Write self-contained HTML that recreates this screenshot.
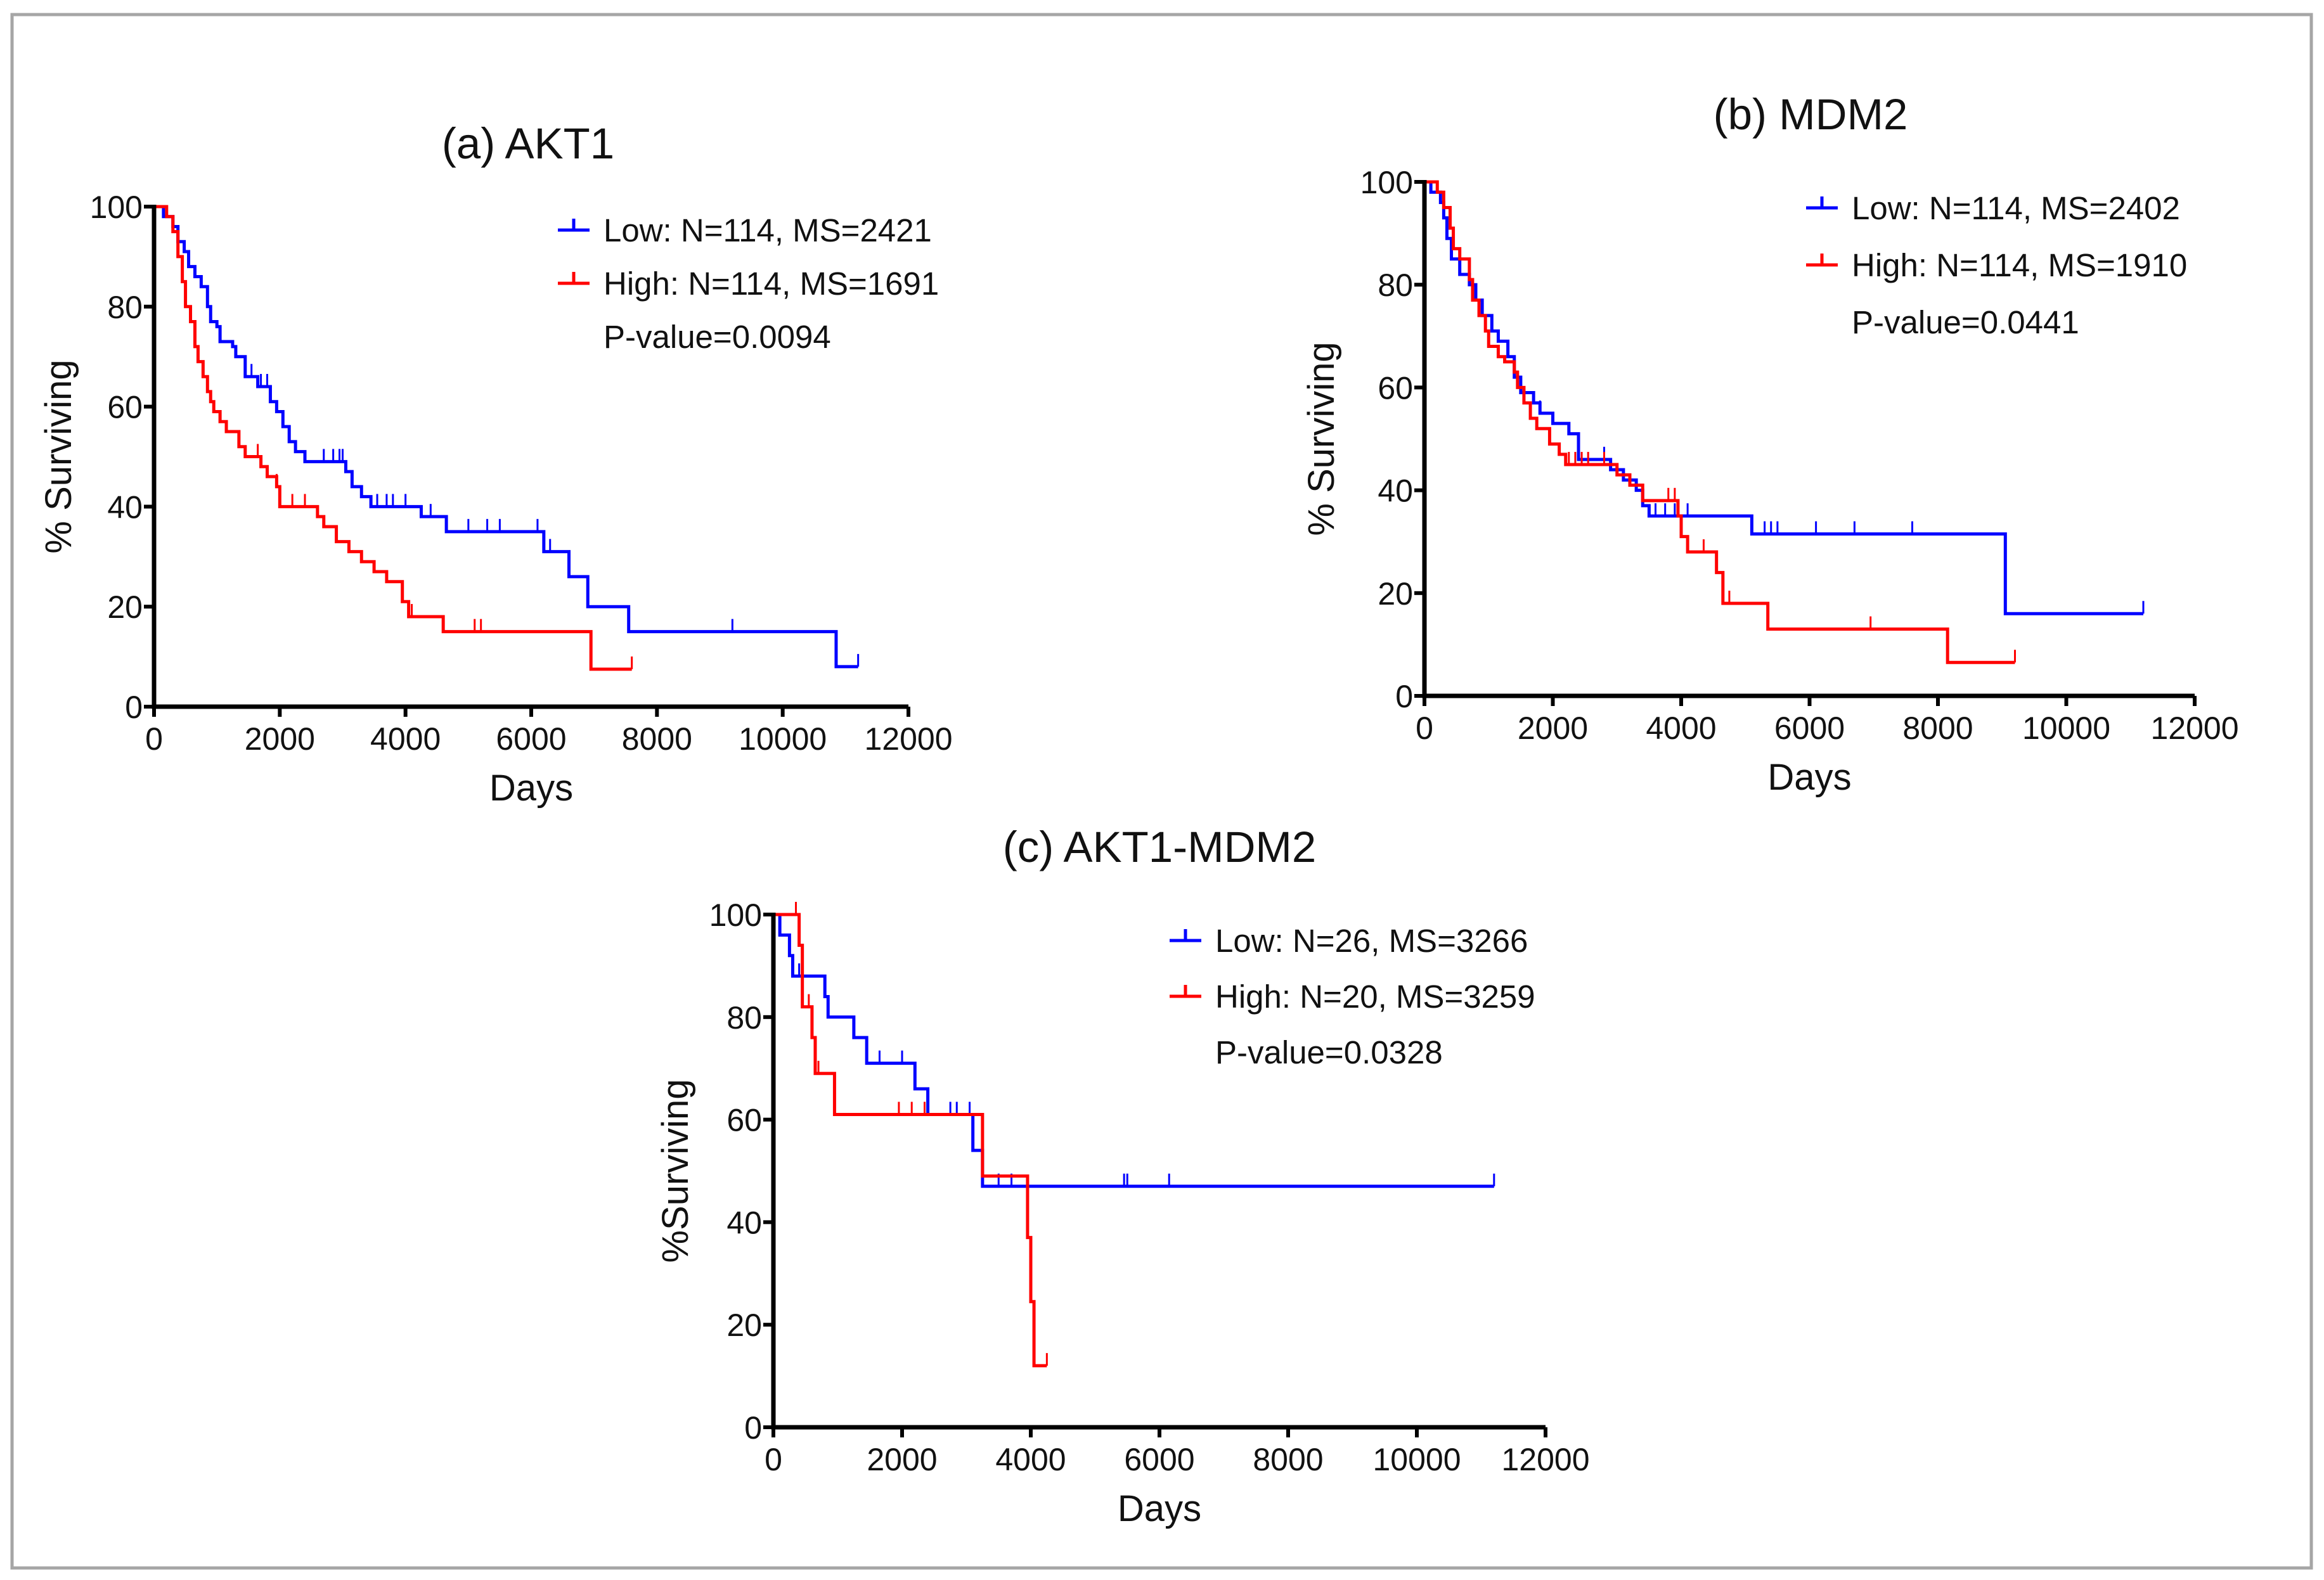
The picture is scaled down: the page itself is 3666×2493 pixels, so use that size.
<!DOCTYPE html>
<html><head><meta charset="utf-8"><style>
html,body{margin:0;padding:0;background:#fff}
svg{display:block}
text{font-family:"Liberation Sans",Arial,sans-serif;fill:#111}
</style></head><body>
<svg id="fig" width="3666" height="2493" viewBox="0 0 3666 2493" xmlns="http://www.w3.org/2000/svg">
<rect x="19" y="23" width="3627" height="2451" fill="none" stroke="#a6a6a6" stroke-width="5"/>
</svg>
<script>
// ---- data: panel a (AKT1) ----
const aLowT=[0,150,300,380,480,550,650,750,850,900,1000,1050,1250,1300,1450,1650,1850,1950,2050,2150,2250,2400,3050,3150,3300,3450,4250,4650,6200,6600,6900,7550,10850];
const aLowS=[100,98,96,93,91,88,86,84,80,77,76,73,72,70,66,64,61,59,56,53,51,49,47,44,42,40,38,35,31,26,20,15,8];
const aLowEnd=11200;
const aLowCens=[1550,1700,1800,2700,2850,2950,3000,3550,3700,3800,4000,4400,5000,5300,5500,6100,6300,9200,11200];
const aHighT=[0,200,300,380,450,500,580,650,700,780,850,900,950,1050,1150,1350,1450,1700,1800,1950,2000,2600,2700,2900,3100,3300,3500,3700,3950,4050,4600,6950];
const aHighS=[100,98,95,90,85,80,77,72,69,66,63,61,59,57,55,52,50,48,46,44,40,38,36,33,31,29,27,25,21,18,15,7.5];
const aHighEnd=7600;
const aHighCens=[1650,1950,2200,2400,4100,5100,5200,7600];
// ---- data: panel b (MDM2) ----
const bLowT=[0,100,250,300,350,420,550,700,800,900,1050,1150,1300,1400,1500,1700,1800,2000,2250,2400,2900,3100,3300,3400,3500,5100,9050];
const bLowS=[100,98,96,93,89,85,82,80,77,74,71,69,66,62,59,57,55,53,51,46,44,42,40,37,35,31.5,16];
const bLowEnd=11200;
const bLowCens=[1800,2800,3600,3750,3900,4100,5300,5400,5500,6100,6700,7600,11200];
const bHighT=[0,200,300,400,450,550,700,750,850,950,1000,1150,1250,1400,1450,1550,1650,1750,1950,2100,2200,3000,3200,3400,3950,4000,4100,4550,4650,5350,8150];
const bHighS=[100,98,95,91,87,85,81,77,74,71,68,66,65,63,60,57,54,52,49,47,45,43,41,38,35,31,28,24,18,13,6.5];
const bHighEnd=9200;
const bHighCens=[2250,2350,2450,2550,2800,3800,3900,4350,4550,4750,6950,9200];
// ---- data: panel c (AKT1-MDM2) ----
const cLowT=[0,100,250,300,800,850,1250,1450,2200,2400,3100,3250];
const cLowS=[100,96,92,88,84,80,76,71,66,61,54,47];
const cLowEnd=11200;
const cLowCens=[400,1650,2000,2750,2850,3050,3500,3700,5450,5500,6150,11200];
const cHighT=[0,400,450,600,650,950,3250,3950,4000,4050];
const cHighS=[100,94,82,76,69,61,49,37,24.5,12];
const cHighEnd=4250;
const cHighCens=[350,550,700,1950,2150,2350,4250];
const xTicks=[0,2000,4000,6000,8000,10000,12000];
const yTicks=[0,20,40,60,80,100];

const svg=document.getElementById('fig');
const NS='http://www.w3.org/2000/svg';
function mk(tag,attrs,parent){const e=document.createElementNS(NS,tag);for(const k in attrs)e.setAttribute(k,attrs[k]);(parent||svg).appendChild(e);return e;}

function panel(p){
  const g=mk('g',{});
  
  
  const X=d=>p.x0+(d/12000)*(p.x1-p.x0);
  const Y=v=>p.y0+(v/100)*(p.y100-p.y0);
  const t=mk('text',{x:p.tx,y:p.ty,'font-size':69,'text-anchor':'middle'},g);t.textContent=p.title;
  
  
  function series(T,S,end,cens,color,name){
    let d='M'+X(T[0])+','+Y(S[0]);
    for(let i=1;i<T.length;i++){d+=' H'+X(T[i])+' V'+Y(S[i]);}
    d+=' H'+X(end);
    const path=mk('path',{d:d,fill:'none',stroke:color,'stroke-width':5},g);
    
    
    cens.forEach(c=>{
      let v=S[0];for(let i=0;i<T.length;i++){if(T[i]<=c)v=S[i];}
      const ln=mk('line',{x1:X(c),x2:X(c),y1:Y(v),y2:Y(v)-20,stroke:color,'stroke-width':3},g);
      
      
    });
  }
  series(p.lowT,p.lowS,p.lowEnd,p.lowC,'#0000ff','low');
  series(p.highT,p.highS,p.highEnd,p.highC,'#ff0000','high');
  const ax=mk('path',{d:'M'+p.x0+','+(p.y100-3)+' V'+p.y0+' H'+p.x1,fill:'none',stroke:'#000','stroke-width':7},g);
  
  
  xTicks.forEach(v=>{
    const l=mk('line',{x1:X(v),x2:X(v),y1:p.y0,y2:p.y0+16,stroke:'#000','stroke-width':6},g);
    
    
    const tt=mk('text',{x:X(v),y:p.y0+68,'font-size':50,'text-anchor':'middle'},g);tt.textContent=v;
    
    
  });
  yTicks.forEach(v=>{
    const l=mk('line',{x1:p.x0-16,x2:p.x0,y1:Y(v),y2:Y(v),stroke:'#000','stroke-width':6},g);
    
    
    const tt=mk('text',{x:p.x0-18,y:Y(v)+18,'font-size':50,'text-anchor':'end'},g);tt.textContent=v;
    
    
  });
  const xt=mk('text',{x:(p.x0+p.x1)/2,y:p.y0+148,'font-size':58,'text-anchor':'middle'},g);xt.textContent='Days';
  
  
  const yt=mk('text',{x:0,y:0,'font-size':58,'text-anchor':'middle',transform:'translate('+p.ytx+','+((p.y0+p.y100)/2)+') rotate(-90)'},g);yt.textContent=p.ylab;
  
  
  const rows=[[p.legLow,'#0000ff'],[p.legHigh,'#ff0000'],[p.pval,null]];
  rows.forEach((r,i)=>{
    const cy=p.ly+i*p.ldy;
    if(r[1]){
      const l=mk('path',{d:'M'+p.lx+','+cy+' H'+(p.lx+50)+' M'+(p.lx+25)+','+cy+' V'+(cy-18),fill:'none',stroke:r[1],'stroke-width':5},g);
      
      
    }
    const tt=mk('text',{x:p.lx+72,y:cy+18,'font-size':51},g);tt.textContent=r[0];
    
    
  });
}
panel({id:'akt1',title:'(a) AKT1',tx:833,ty:250,x0:243,x1:1433,y0:1115,y100:326,ytx:112,ylab:'% Surviving',
  lowT:aLowT,lowS:aLowS,lowEnd:aLowEnd,lowC:aLowCens,highT:aHighT,highS:aHighS,highEnd:aHighEnd,highC:aHighCens,
  lx:880,ly:363,ldy:84,legLow:'Low: N=114, MS=2421',legHigh:'High: N=114, MS=1691',pval:'P-value=0.0094'});
panel({id:'mdm2',title:'(b) MDM2',tx:2856,ty:204,x0:2247,x1:3462,y0:1098,y100:287,ytx:2104,ylab:'% Surviving',
  lowT:bLowT,lowS:bLowS,lowEnd:bLowEnd,lowC:bLowCens,highT:bHighT,highS:bHighS,highEnd:bHighEnd,highC:bHighCens,
  lx:2849,ly:328,ldy:90,legLow:'Low: N=114, MS=2402',legHigh:'High: N=114, MS=1910',pval:'P-value=0.0441'});
panel({id:'akt1-mdm2',title:'(c) AKT1-MDM2',tx:1829,ty:1360,x0:1220,x1:2438,y0:2252,y100:1443,ytx:1085,ylab:'%Surviving',
  lowT:cLowT,lowS:cLowS,lowEnd:cLowEnd,lowC:cLowCens,highT:cHighT,highS:cHighS,highEnd:cHighEnd,highC:cHighCens,
  lx:1845,ly:1484,ldy:88,legLow:'Low: N=26, MS=3266',legHigh:'High: N=20, MS=3259',pval:'P-value=0.0328'});
</script>
</body></html>
